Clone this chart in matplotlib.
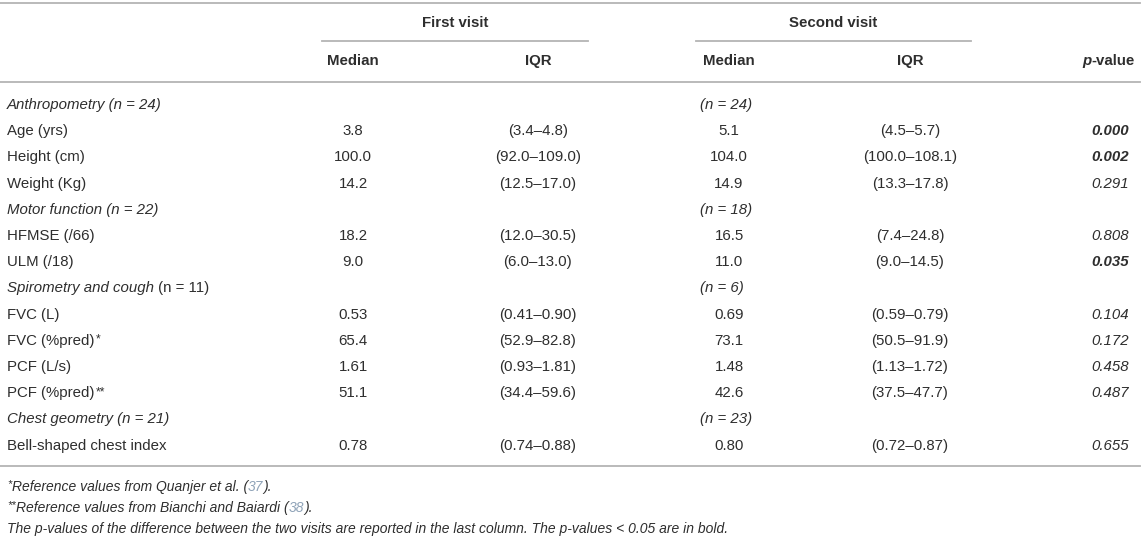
import matplotlib
matplotlib.use("Agg")
import matplotlib.pyplot as plt

# ── table data ──
section_titles = ["Anthropometry", "Motor function", "Spirometry and cough", "Chest geometry"]
section_n_first = [24, 22, 11, 21]
section_n_second = [24, 18, 6, 23]
section_sizes = [3, 2, 4, 1]

variables = ["Age (yrs)", "Height (cm)", "Weight (Kg)", "HFMSE (/66)", "ULM (/18)",
             "FVC (L)", "FVC (%pred)", "PCF (L/s)", "PCF (%pred)", "Bell-shaped chest index"]
var_marks = ["", "", "", "", "", "", "*", "", "**", ""]
decimals = [1, 1, 1, 1, 1, 2, 1, 2, 1, 2]

first_median = [3.8, 100.0, 14.2, 18.2, 9.0, 0.53, 65.4, 1.61, 51.1, 0.78]
first_iqr_low = [3.4, 92.0, 12.5, 12.0, 6.0, 0.41, 52.9, 0.93, 34.4, 0.74]
first_iqr_high = [4.8, 109.0, 17.0, 30.5, 13.0, 0.90, 82.8, 1.81, 59.6, 0.88]

second_median = [5.1, 104.0, 14.9, 16.5, 11.0, 0.69, 73.1, 1.48, 42.6, 0.80]
second_iqr_low = [4.5, 100.0, 13.3, 7.4, 9.0, 0.59, 50.5, 1.13, 37.5, 0.72]
second_iqr_high = [5.7, 108.1, 17.8, 24.8, 14.5, 0.79, 91.9, 1.72, 47.7, 0.87]

p_values = [0.000, 0.002, 0.291, 0.808, 0.035, 0.104, 0.172, 0.458, 0.487, 0.655]

footnote_marks = ["*", "**"]
footnote_refs = [("Reference values from Quanjer et al. (", "37"),
                 ("Reference values from Bianchi and Baiardi (", "38")]
footnote_last = ("The p-values of the difference between the two visits are reported in the last column. "
                 "The p-values < 0.05 are in bold.")

# ── style ──
plt.rcParams['font.family'] = ['Liberation Sans', 'DejaVu Sans']
TXT = "#2e2e2e"
LINE = "#b4b4b4"
REF = "#8fa3b8"
FS = 10.8
FS_NOTE = 10.0

W, H = 1146, 538
fig = plt.figure(figsize=(W / 100, H / 100), dpi=100)
ax = fig.add_axes([0, 0, 1, 1])
ax.set_xlim(0, W)
ax.set_ylim(H, 0)
ax.axis("off")

X_LABEL = 7
X_MED1, X_IQR1 = 353, 538
X_MED2, X_IQR2 = 729, 910
X_N2 = 700
X_P = 1110


def chain(x, y, parts, size=FS):
    """parts: list of (text, style, weight, color, superscript); first part is never a superscript"""
    prev = None
    for txt, style, weight, color, sup in parts:
        fs = size * 0.8 if sup else size
        if prev is None:
            prev = ax.text(x, y, txt, fontsize=fs, style=style, weight=weight,
                           color=color, ha="left", va="center")
        elif sup:
            prev = ax.annotate(txt, xy=(1, 1), xycoords=prev, xytext=(0.6, 0),
                               textcoords="offset points", fontsize=fs, style=style,
                               weight=weight, color=color, ha="left", va="top")
        else:
            prev = ax.annotate(txt, xy=(1, 0), xycoords=prev, xytext=(0, 0),
                               textcoords="offset points", fontsize=fs, style=style,
                               weight=weight, color=color, ha="left", va="bottom")
    return prev


# ── rules ──
ax.plot([0, W - 6], [3, 3], color=LINE, lw=1.3)
ax.plot([322, 588], [41, 41], color=LINE, lw=1.3)
ax.plot([696, 971], [41, 41], color=LINE, lw=1.3)
ax.plot([0, W - 6], [82, 82], color=LINE, lw=1.3)

# ── header ──
ax.text(455, 23, "First visit", fontsize=FS, weight="bold", color=TXT, ha="center", va="center")
ax.text(833, 23, "Second visit", fontsize=FS, weight="bold", color=TXT, ha="center", va="center")
for xc, lab in [(X_MED1, "Median"), (X_IQR1, "IQR"), (X_MED2, "Median"), (X_IQR2, "IQR")]:
    ax.text(xc, 61, lab, fontsize=FS, weight="bold", color=TXT, ha="center", va="center")
chain(1082, 61, [("p", "italic", "bold", TXT, False), ("-value", "normal", "bold", TXT, False)])

# ── body ──
y0, step = 105, 26.2
row = 0
vi = 0
for title, n1, n2, size in zip(section_titles, section_n_first, section_n_second, section_sizes):
    y = y0 + row * step
    if title.startswith("Spirometry"):
        chain(X_LABEL, y, [(title, "italic", "normal", TXT, False),
                           (f" (n = {n1})", "normal", "normal", TXT, False)])
    else:
        ax.text(X_LABEL, y, f"{title} (n = {n1})", fontsize=FS, style="italic",
                color=TXT, ha="left", va="center")
    ax.text(X_N2, y, f"(n = {n2})", fontsize=FS, style="italic", color=TXT,
            ha="left", va="center")
    row += 1
    for _ in range(size):
        y = y0 + row * step
        d = decimals[vi]
        parts = [(variables[vi], "normal", "normal", TXT, False)]
        if var_marks[vi]:
            parts.append((var_marks[vi], "normal", "normal", TXT, True))
        chain(X_LABEL, y, parts)
        ax.text(X_MED1, y, f"{first_median[vi]:.{d}f}", fontsize=FS, color=TXT,
                ha="center", va="center")
        ax.text(X_IQR1, y, f"({first_iqr_low[vi]:.{d}f}–{first_iqr_high[vi]:.{d}f})",
                fontsize=FS, color=TXT, ha="center", va="center")
        ax.text(X_MED2, y, f"{second_median[vi]:.{d}f}", fontsize=FS, color=TXT,
                ha="center", va="center")
        ax.text(X_IQR2, y, f"({second_iqr_low[vi]:.{d}f}–{second_iqr_high[vi]:.{d}f})",
                fontsize=FS, color=TXT, ha="center", va="center")
        pv = p_values[vi]
        ax.text(X_P, y, f"{pv:.3f}", fontsize=FS, style="italic",
                weight="bold" if pv < 0.05 else "normal", color=TXT,
                ha="center", va="center")
        row += 1
        vi += 1

y_bottom = y0 + (row - 1) * step + 20
ax.plot([0, W - 6], [y_bottom, y_bottom], color=LINE, lw=1.3)

# ── footnotes ──
for k, (mark, (text, ref)) in enumerate(zip(footnote_marks, footnote_refs)):
    yf = y_bottom + 21 * (k + 1)
    ax.text(X_LABEL, yf - 3, mark, fontsize=FS_NOTE * 0.8, style="italic", color=TXT,
            ha="left", va="center")
    chain(X_LABEL + 4.5 * len(mark), yf, [(text, "italic", "normal", TXT, False),
                                          (ref, "italic", "normal", REF, False),
                                          (").", "italic", "normal", TXT, False)], size=FS_NOTE)
ax.text(X_LABEL, y_bottom + 63, footnote_last,
        fontsize=FS_NOTE, style="italic", color=TXT, ha="left", va="center")

fig.savefig("out.png", dpi=100)
